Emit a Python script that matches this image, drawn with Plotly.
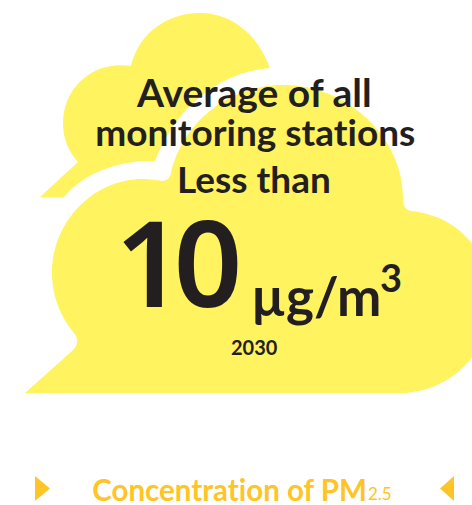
import plotly.graph_objects as go

W, H = 472, 505
YELLOW = "#FFF35F"
DARK = "#231F20"
ORANGE = "#FFC425"
TEXT_FONT = "Lato"
NUM_FONT = "Noto Sans"

back_cloud = ("M 40 197 L 64 197 C 85 172 120 160 155 161 C 175 110 215 73 270 68 "
              "C 258 35 232 13 200 13 C 167 13 139 33 131 66 C 93 60 63 88 63 123 "
              "C 63 138 68 151 78 162 Z")
front_cloud = ("M 25 393 L 72 351 C 78 346 79 339 74 333 C 60 316 52 296 52 273 "
               "C 52 222 93 179 143 179 C 150 179 156 180 162 181 C 167 181 170 178 171 173 "
               "C 183 122 229 85 283 85 C 349 85 403 139 403 197 C 403 205 405 210 411 211 "
               "C 461 216 491 255 491 302 C 491 352 450 393 400 393 Z")
left_arrow = "M 35 476 L 50 488.5 L 35 501 Z"
right_arrow = "M 454 476 L 440 488.5 L 454 501 Z"

labels = [
    ("Average of all", 254, 92, 39, DARK, "center", TEXT_FONT, 700),
    ("monitoring stations", 255, 131, 37, DARK, "center", TEXT_FONT, 700),
    ("Less than", 254, 178, 37, DARK, "center", TEXT_FONT, 700),
    ("10", 173, 260, 120, DARK, "center", NUM_FONT, 600),
    ("µg/m", 249, 295, 53, DARK, "left", TEXT_FONT, 700),
    ("3", 378, 277, 38, DARK, "left", TEXT_FONT, 700),
    ("2030", 254, 347, 20, DARK, "center", TEXT_FONT, 700),
    ("Concentration of PM", 90, 489, 29.5, ORANGE, "left", TEXT_FONT, 700),
    ("2.5", 366, 493, 17, ORANGE, "left", TEXT_FONT, 400),
]

fig = go.Figure()
for path, color in [(back_cloud, YELLOW), (front_cloud, YELLOW),
                    (left_arrow, ORANGE), (right_arrow, ORANGE)]:
    fig.add_shape(type="path", path=path, xref="x", yref="y",
                  fillcolor=color, line_width=0, layer="below")

for text, x, y, size, color, anchor, family, weight in labels:
    fig.add_annotation(text=text, x=x, y=y, xref="x", yref="y", showarrow=False,
                       xanchor=anchor, yanchor="middle",
                       font=dict(family=family, size=size, color=color, weight=weight))

fig.update_xaxes(range=[0, W], visible=False, fixedrange=True)
fig.update_yaxes(range=[H, 0], visible=False, fixedrange=True)
fig.update_layout(width=W, height=H, margin=dict(l=0, r=0, t=0, b=0),
                  paper_bgcolor="white", plot_bgcolor="white", showlegend=False)
fig.write_html(
    "out.html",
    config={"displayModeBar": False},
    post_script=("document.body.style.margin='0';"
                 "var s=document.createElement('style');"
                 "s.textContent='svg text{font-variant-ligatures:none !important;"
                 "font-feature-settings:\"liga\" 0,\"clig\" 0 !important;}"
                 ".annotation[data-index=\"3\"] text{letter-spacing:-10px;}';"
                 "document.head.appendChild(s);"),
)
